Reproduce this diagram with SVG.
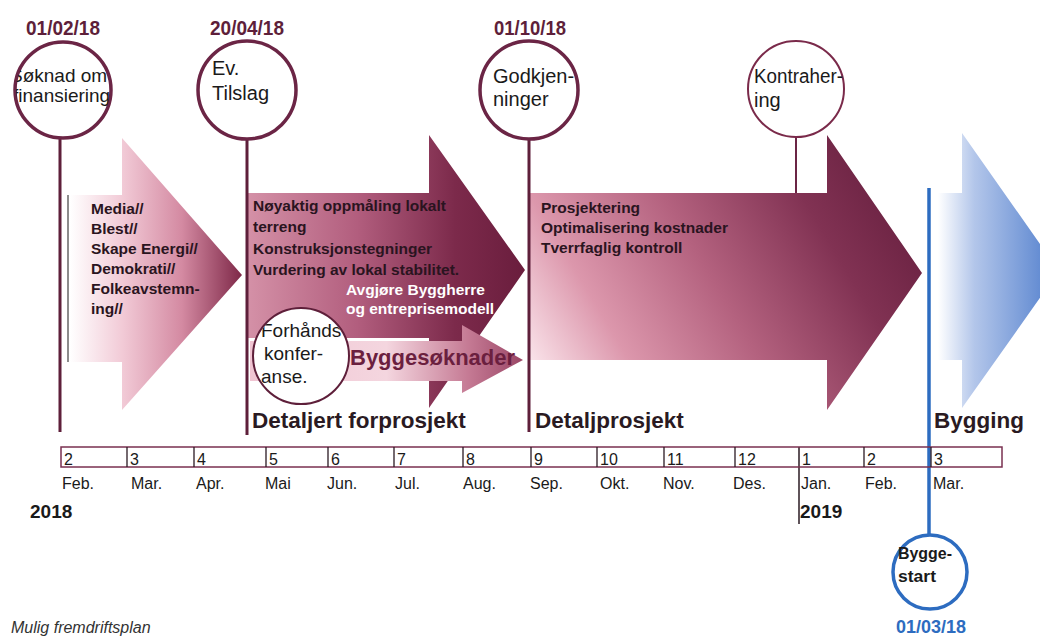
<svg xmlns="http://www.w3.org/2000/svg" width="1040" height="637" viewBox="0 0 1040 637">
<style>
.ring{fill:#fff;stroke:#6b2545;stroke-width:3.5}
.ringt{fill:#fff;stroke:#7a2a4a;stroke-width:2}
.vl{stroke:#5e1f3a;stroke-width:3;fill:none}
.date{font-family:"Liberation Sans",Arial,sans-serif;font-weight:bold;font-size:21px;fill:#5e1f3a}
.ct{font-family:"Liberation Sans",Arial,sans-serif;font-size:20px;fill:#1a1a1a}
.at{font-family:"Liberation Sans",Arial,sans-serif;font-weight:bold;font-size:15.5px;fill:#2a1420}
.wt{font-family:"Liberation Sans",Arial,sans-serif;font-weight:bold;font-size:15.5px;fill:#fff}
.ph{font-family:"Liberation Sans",Arial,sans-serif;font-weight:bold;font-size:22.5px;fill:#2a1a22}
.num{font-family:"Liberation Sans",Arial,sans-serif;font-size:16px;fill:#1a1a1a}
.yr{font-family:"Liberation Sans",Arial,sans-serif;font-weight:bold;font-size:19px;fill:#1a1a1a}
.cell{fill:none;stroke:#7a3050;stroke-width:1.5}
.div{stroke:#2a1a22;stroke-width:1.3}
</style>
<defs>
<linearGradient id="g1" gradientUnits="userSpaceOnUse" x1="70" y1="0" x2="242" y2="0">
<stop offset="0" stop-color="#ffffff"/><stop offset="0.3" stop-color="#f2cbd7"/><stop offset="0.65" stop-color="#d48aa2"/><stop offset="1" stop-color="#7e2848"/>
</linearGradient>
<linearGradient id="g2" gradientUnits="userSpaceOnUse" x1="245" y1="0" x2="525" y2="0">
<stop offset="0" stop-color="#d592a8"/><stop offset="0.4" stop-color="#b25e7e"/><stop offset="0.75" stop-color="#7c2a4b"/><stop offset="1" stop-color="#6a1d3d"/>
</linearGradient>
<linearGradient id="g3" gradientUnits="userSpaceOnUse" x1="535" y1="375" x2="880" y2="170">
<stop offset="0" stop-color="#fbe6ec"/><stop offset="0.22" stop-color="#dc97ac"/><stop offset="0.5" stop-color="#b4627f"/><stop offset="0.8" stop-color="#813253"/><stop offset="1" stop-color="#6b2242"/>
</linearGradient>
<linearGradient id="gs" gradientUnits="userSpaceOnUse" x1="250" y1="0" x2="523" y2="0">
<stop offset="0" stop-color="#f0c4d2"/><stop offset="0.5" stop-color="#f4d6df"/><stop offset="0.8" stop-color="#c57a94"/><stop offset="1" stop-color="#9a4666"/>
</linearGradient>
<linearGradient id="gb" gradientUnits="userSpaceOnUse" x1="938" y1="0" x2="1059" y2="0">
<stop offset="0" stop-color="#ffffff"/><stop offset="0.3" stop-color="#b3c6ea"/><stop offset="1" stop-color="#4f7dcc"/>
</linearGradient>
<clipPath id="c1"><circle cx="63" cy="90" r="47"/></clipPath>
<clipPath id="c5"><circle cx="301" cy="356" r="47"/></clipPath>
</defs>
<rect width="1040" height="637" fill="#fff"/>

<g id="arrow-1">
<polygon points="70,195 122,195 122,138 242,275 122,410 122,362 70,362" fill="url(#g1)"/>
<line x1="68" y1="195" x2="68" y2="362" stroke="#666" stroke-width="1.5"/>
<text class="at" x="91" y="214">Media//</text>
<text class="at" x="91" y="234">Blest//</text>
<text class="at" x="91" y="254">Skape Energi//</text>
<text class="at" x="91" y="274">Demokrati//</text>
<text class="at" x="91" y="294">Folkeavstemn-</text>
<text class="at" x="91" y="314">ing//</text>
</g>

<g id="arrow-2">
<polygon points="247,193 429,193 429,135 525,270 429,408 429,338 247,338" fill="url(#g2)"/>
<text class="at" x="253" y="211">Nøyaktig oppmåling lokalt</text>
<text class="at" x="253" y="232">terreng</text>
<text class="at" x="253" y="254">Konstruksjonstegninger</text>
<text class="at" x="253" y="275">Vurdering av lokal stabilitet.</text>
<text class="wt" x="346" y="295">Avgjøre Byggherre</text>
<text class="wt" x="346" y="314">og entreprisemodell</text>
</g>

<g id="arrow-byggesoknader">
<polygon points="250,341 462,341 462,325 523,360 462,393 462,381 250,381" fill="url(#gs)"/>
<text x="350" y="365" font-family="Liberation Sans, Arial, sans-serif" font-weight="bold" font-size="22px" fill="#6b1f3f">Byggesøknader</text>
</g>

<g id="node-forhands">
<circle cx="301" cy="356" r="48" fill="#fff" stroke="#5e1f3a" stroke-width="2"/>
<g clip-path="url(#c5)">
<text class="ct" style="font-size:19px" x="261" y="337">Forhånds</text>
<text class="ct" style="font-size:19px" x="264" y="360">konfer-</text>
<text class="ct" style="font-size:19px" x="261" y="383">anse.</text>
</g>
</g>

<g id="arrow-3">
<polygon points="530,193 827,193 827,135 922,273 827,410 827,360 530,360" fill="url(#g3)"/>
<text class="at" x="541" y="213">Prosjektering</text>
<text class="at" x="541" y="233">Optimalisering kostnader</text>
<text class="at" x="541" y="253">Tverrfaglig kontroll</text>
</g>

<g id="arrow-4">
<polygon points="938,193 962,193 962,133 1059,271 962,408 962,360 938,360" fill="url(#gb)"/>
</g>

<g id="connectors">
<line class="vl" x1="60" y1="138" x2="60" y2="432"/>
<line class="vl" x1="247" y1="139" x2="247" y2="435"/>
<line class="vl" x1="529" y1="139" x2="529" y2="432"/>
<line x1="796" y1="137" x2="796" y2="193" stroke="#6b2545" stroke-width="2"/>
<line x1="929" y1="188" x2="929" y2="535" stroke="#2d6cc0" stroke-width="3.5"/>
<line x1="799" y1="447" x2="799" y2="524" stroke="#2a1a22" stroke-width="1.5"/>
</g>

<g id="node-soknad">
<text class="date" x="26" y="35" textLength="74" lengthAdjust="spacingAndGlyphs">01/02/18</text>
<circle class="ring" cx="63" cy="90" r="48"/>
<g clip-path="url(#c1)">
<text class="ct" style="font-size:19px" x="10" y="82">Søknad om</text>
<text class="ct" style="font-size:19px" x="13" y="102">finansiering</text>
</g>
</g>

<g id="node-tilslag">
<text class="date" x="210" y="35" textLength="74" lengthAdjust="spacingAndGlyphs">20/04/18</text>
<circle class="ring" cx="247" cy="90" r="49"/>
<text class="ct" x="212" y="75">Ev.</text>
<text class="ct" x="212" y="100">Tilslag</text>
</g>

<g id="node-godkjenninger">
<text class="date" x="494" y="35" textLength="72" lengthAdjust="spacingAndGlyphs">01/10/18</text>
<circle class="ring" cx="529" cy="90" r="49"/>
<text class="ct" x="493" y="83">Godkjen-</text>
<text class="ct" x="493" y="106">ninger</text>
</g>

<g id="node-kontrahering">
<circle class="ringt" cx="796" cy="89" r="48"/>
<text class="ct" x="754" y="83" textLength="89" lengthAdjust="spacingAndGlyphs">Kontraher-</text>
<text class="ct" x="754" y="107">ing</text>
</g>

<g id="node-byggestart">
<circle cx="930" cy="572" r="37" fill="#fff" stroke="#2d6cc0" stroke-width="3.5"/>
<text x="898" y="559" font-family="Liberation Sans, Arial, sans-serif" font-weight="bold" font-size="17px" fill="#1a1a1a" textLength="54" lengthAdjust="spacingAndGlyphs">Bygge-</text>
<text x="898" y="582" font-family="Liberation Sans, Arial, sans-serif" font-weight="bold" font-size="17px" fill="#1a1a1a" textLength="38" lengthAdjust="spacingAndGlyphs">start</text>
<text x="896" y="633" font-family="Liberation Sans, Arial, sans-serif" font-weight="bold" font-size="19px" fill="#2d6cc0" textLength="70" lengthAdjust="spacingAndGlyphs">01/03/18</text>
</g>

<g id="phases">
<text class="ph" x="252" y="428">Detaljert forprosjekt</text>
<text class="ph" x="535" y="428">Detaljprosjekt</text>
<text class="ph" x="934" y="428">Bygging</text>
</g>

<g id="timeline">
<rect class="cell" x="61" y="447" width="941" height="20"/>
<line class="div" x1="127" y1="447" x2="127" y2="467"/>
<line class="div" x1="194" y1="447" x2="194" y2="467"/>
<line class="div" x1="266" y1="447" x2="266" y2="467"/>
<line class="div" x1="328" y1="447" x2="328" y2="467"/>
<line class="div" x1="394" y1="447" x2="394" y2="467"/>
<line class="div" x1="463" y1="447" x2="463" y2="467"/>
<line class="div" x1="531" y1="447" x2="531" y2="467"/>
<line class="div" x1="597" y1="447" x2="597" y2="467"/>
<line class="div" x1="664" y1="447" x2="664" y2="467"/>
<line class="div" x1="735" y1="447" x2="735" y2="467"/>
<line class="div" x1="864" y1="447" x2="864" y2="467"/>
<line class="div" x1="931" y1="447" x2="931" y2="467"/>
<text class="num" x="64" y="465">2</text>
<text class="num" x="130" y="465">3</text>
<text class="num" x="197" y="465">4</text>
<text class="num" x="269" y="465">5</text>
<text class="num" x="331" y="465">6</text>
<text class="num" x="397" y="465">7</text>
<text class="num" x="466" y="465">8</text>
<text class="num" x="534" y="465">9</text>
<text class="num" x="600" y="465">10</text>
<text class="num" x="667" y="465">11</text>
<text class="num" x="738" y="465">12</text>
<text class="num" x="802" y="465">1</text>
<text class="num" x="867" y="465">2</text>
<text class="num" x="934" y="465">3</text>
<text class="num" x="62" y="489">Feb.</text>
<text class="num" x="131" y="489">Mar.</text>
<text class="num" x="196" y="489">Apr.</text>
<text class="num" x="265" y="489">Mai</text>
<text class="num" x="327" y="489">Jun.</text>
<text class="num" x="395" y="489">Jul.</text>
<text class="num" x="463" y="489">Aug.</text>
<text class="num" x="530" y="489">Sep.</text>
<text class="num" x="600" y="489">Okt.</text>
<text class="num" x="663" y="489">Nov.</text>
<text class="num" x="733" y="489">Des.</text>
<text class="num" x="801" y="489">Jan.</text>
<text class="num" x="865" y="489">Feb.</text>
<text class="num" x="933" y="489">Mar.</text>
<text class="yr" x="30" y="518">2018</text>
<text class="yr" x="800" y="518">2019</text>
</g>

<text x="11" y="633" font-family="Liberation Sans, Arial, sans-serif" font-style="italic" font-size="16px" fill="#333">Mulig fremdriftsplan</text>
</svg>
